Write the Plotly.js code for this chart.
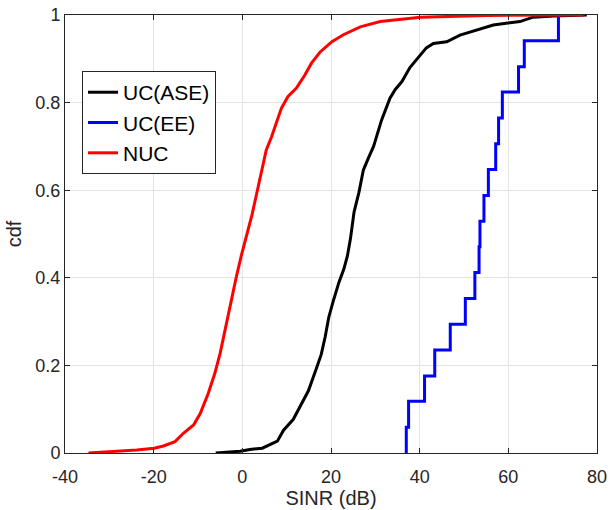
<!DOCTYPE html>
<html>
<head>
<meta charset="utf-8">
<script src="https://cdn.plot.ly/plotly-3.0.1.min.js"></script>
<style>html,body{margin:0;padding:0;background:#fff;}#chart{width:610px;height:510px;}</style>
</head>
<body>
<div id="chart"></div>
<script>
// UC(ASE) empirical CDF (SINR in dB, cdf)
var aseX = [-6.0, -0.5, 1.7, 4.5, 7.9, 9.3, 11.5, 13.0, 14.9, 16.6, 17.8, 18.7, 19.5, 20.6, 21.8, 22.9, 23.7, 24.4, 25.2, 26.3, 27.3, 28.5, 29.6, 31.4, 33.3, 34.5, 36.0, 37.8, 40.1, 41.5, 43.1, 46.1, 49.1, 52.9, 56.6, 59.5, 62.6, 65.6, 70.2, 77.7];
var aseCdf = [0, 0.004, 0.008, 0.011, 0.027, 0.052, 0.077, 0.106, 0.142, 0.19, 0.225, 0.266, 0.31, 0.35, 0.39, 0.42, 0.45, 0.49, 0.55, 0.595, 0.646, 0.675, 0.70, 0.76, 0.81, 0.83, 0.848, 0.88, 0.909, 0.925, 0.935, 0.939, 0.954, 0.966, 0.977, 0.981, 0.985, 0.995, 0.998, 1.0];

// UC(EE) stair CDF
var eeX = [36.98, 36.98, 37.5, 41.1, 43.4, 46.9, 50.3, 52.45, 53.4, 53.6, 54.5, 55.5, 57.15, 57.8, 58.65, 62.3, 63.6, 71.3];
var eeCdf = [0, 0.059, 0.118, 0.176, 0.235, 0.294, 0.353, 0.412, 0.471, 0.529, 0.588, 0.647, 0.706, 0.765, 0.824, 0.882, 0.941, 1.0];

// NUC empirical CDF
var nucX = [-34.7, -29.1, -23.8, -19.9, -17.8, -15.2, -13.3, -11.0, -9.5, -7.7, -6.2, -5.0, -3.6, -2.3, -1.4, -0.2, 1.0, 2.2, 3.4, 4.4, 5.4, 6.6, 7.7, 8.8, 10.3, 12.2, 14.1, 15.6, 17.5, 20.2, 22.8, 26.6, 31.1, 35.6, 40.2, 55, 77];
var nucCdf = [0, 0.003, 0.007, 0.011, 0.016, 0.026, 0.045, 0.064, 0.09, 0.136, 0.182, 0.228, 0.296, 0.357, 0.40, 0.452, 0.50, 0.545, 0.60, 0.646, 0.692, 0.722, 0.757, 0.787, 0.814, 0.833, 0.863, 0.89, 0.915, 0.939, 0.955, 0.973, 0.985, 0.99, 0.995, 0.999, 1.0];

var seriesNames = ['UC(ASE)', 'UC(EE)', 'NUC'];
var xTicks = [-40, -20, 0, 20, 40, 60, 80];
var yTicks = [0, 0.2, 0.4, 0.6, 0.8, 1];
var yTickText = ['0', '0.2', '0.4', '0.6', '0.8', '1'];

var traces = [
  {x: aseX, y: aseCdf, name: seriesNames[0], mode: 'lines', line: {color: '#000000', width: 3}},
  {x: eeX, y: eeCdf, name: seriesNames[1], mode: 'lines', line: {color: '#0000ff', width: 3, shape: 'hv'}},
  {x: nucX, y: nucCdf, name: seriesNames[2], mode: 'lines', line: {color: '#ff0000', width: 3}}
];

var axisCommon = {
  showline: true, linecolor: '#262626', linewidth: 1, mirror: 'ticks',
  ticks: 'inside', ticklen: 5, tickcolor: '#262626', tickwidth: 1,
  showgrid: true, gridcolor: '#e3e3e3', gridwidth: 1, zeroline: false,
  tickfont: {family: 'Liberation Sans, Arial, sans-serif', size: 18, color: '#262626'}
};

var layout = {
  width: 610, height: 510,
  margin: {l: 65, r: 13, t: 15, b: 57},
  paper_bgcolor: '#ffffff', plot_bgcolor: '#ffffff',
  font: {family: 'Liberation Sans, Arial, sans-serif', color: '#262626'},
  xaxis: Object.assign({}, axisCommon, {
    range: [-40, 80], tickvals: xTicks, ticktext: xTicks.map(String),
    ticklabelstandoff: 7,
    title: {text: 'SINR (dB)', font: {size: 20, color: '#262626'}, standoff: 0}
  }),
  yaxis: Object.assign({}, axisCommon, {
    range: [0, 1], tickvals: yTicks, ticktext: yTickText,
    title: {text: 'cdf', font: {size: 20, color: '#262626'}, standoff: 8}
  }),
  showlegend: true,
  legend: {
    x: 0.032, y: 0.872, xanchor: 'left', yanchor: 'top',
    bgcolor: '#ffffff', bordercolor: '#262626', borderwidth: 1,
    font: {family: 'Liberation Sans, Arial, sans-serif', size: 21, color: '#000000'},
    itemwidth: 30, tracegroupgap: 0
  }
};

Plotly.newPlot('chart', traces, layout, {displayModeBar: false, staticPlot: true});
</script>
</body>
</html>
